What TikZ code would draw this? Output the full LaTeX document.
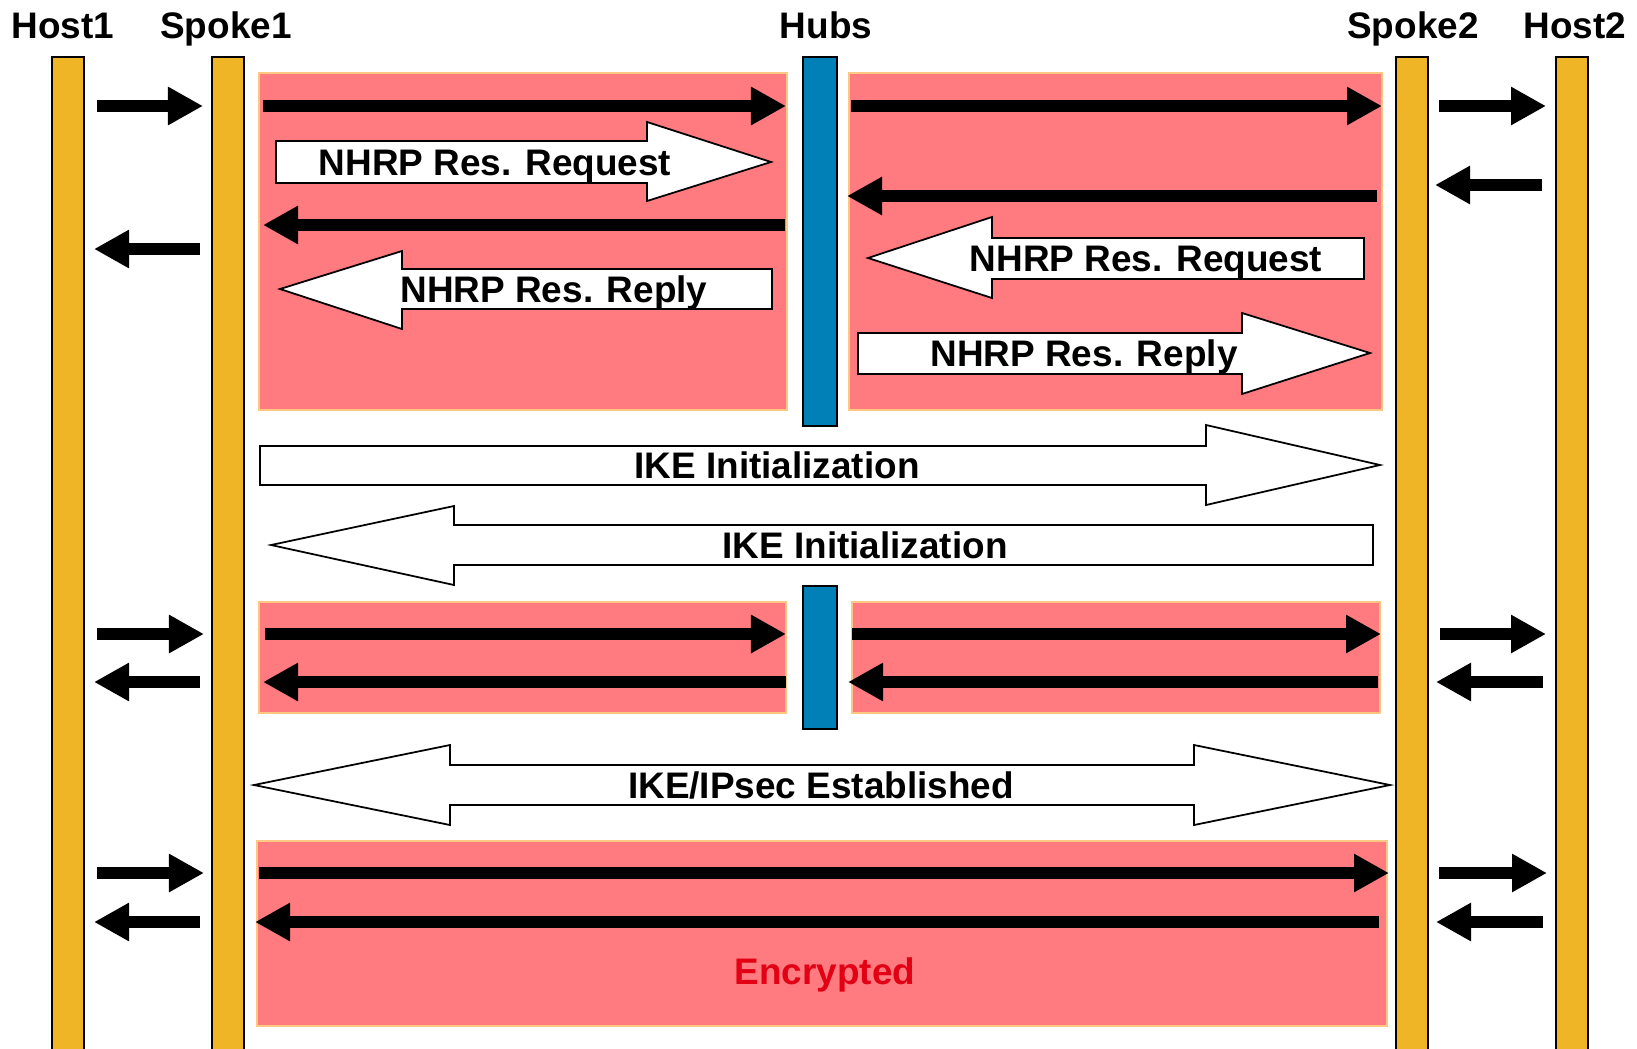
\documentclass[tikz,border=0pt]{standalone}
\usepackage{fontspec}
\setmainfont{Liberation Sans}
\usetikzlibrary{arrows.meta}
\usetikzlibrary{positioning}
\definecolor{barYellow}{RGB}{239,181,38}
\definecolor{hubBlue}{RGB}{0,128,182}
\definecolor{tunnelPink}{RGB}{255,123,128}
\definecolor{tunnelEdge}{RGB}{255,200,130}
\definecolor{cryptRed}{RGB}{225,0,20}
\tikzset{
  lifeline/.style={fill=barYellow,draw=black,line width=0.6pt},
  hubbar/.style={fill=hubBlue,draw=black,line width=0.6pt},
  tunnel/.style={fill=tunnelPink,draw=tunnelEdge,line width=0.5pt},
  msg/.style={line width=0.12cm,-{Triangle[length=0.35cm,width=0.36cm]}},
  fat/.style={fill=white,draw=black,line width=0.5pt,line join=miter},
  lbl/.style={font=\fontsize{10.5}{12}\selectfont\bfseries,anchor=base,inner sep=0pt},
}
\begin{document}
\begin{tikzpicture}[x=0.01cm,y=-0.01cm]
\useasboundingbox (0,0) rectangle (1637,1048);
\clip (0,0) rectangle (1637,1048);
\fill[white] (0,0) rectangle (1637,1048);

% lifelines
\draw[lifeline] (52,57) rectangle (84,1060);
\draw[lifeline] (212,57) rectangle (244,1060);
\draw[lifeline] (1396,57) rectangle (1428,1060);
\draw[lifeline] (1556,57) rectangle (1588,1060);
\node[lbl] (host1) at (63,38) {Host1};
\node[lbl] (spoke1) at (226,38) {Spoke1};
\node[lbl] (hubs) at (826,38) {Hubs};
\node[lbl] (spoke2) at (1413,38) {Spoke2};
\node[lbl] (host2) at (1575,38) {Host2};

% tunnels through the hubs
\draw[tunnel] (259,73) rectangle (787,410);
\draw[tunnel] (849,73) rectangle (1382,410);
\draw[tunnel] (259,602) rectangle (786,713);
\draw[tunnel] (852,602) rectangle (1380,713);
\draw[tunnel] (257,841) rectangle (1387,1026);
\draw[hubbar] (803,57) rectangle (837,426);
\draw[hubbar] (803,586) rectangle (837,729);

% first packet, resolution
\draw[msg] (97,106) -- (203,106);
\draw[msg] (263,106) -- (786,106);
\draw[msg] (851,106) -- (1382,106);
\draw[msg] (1439,106) -- (1546,106);
\draw[msg] (1542,185) -- (1435,185);
\draw[msg] (1377,196) -- (847,196);
\draw[msg] (785,225) -- (263,225);
\draw[msg] (200,249) -- (94,249);

\draw[fat] (276,141) -- (647,141) -- (647,122) -- (771,162) -- (647,201) -- (647,183) -- (276,183) -- cycle;
\node[lbl] (req1) at (495,175) {NHRP Res. Request};
\draw[fat] (772,269) -- (402,269) -- (402,251) -- (280,289) -- (402,329) -- (402,309) -- (772,309) -- cycle;
\node[lbl] (rep1) at (554,302) {NHRP Res. Reply};
\draw[fat] (1364,238) -- (992,238) -- (992,217) -- (868,258) -- (992,298) -- (992,279) -- (1364,279) -- cycle;
\node[lbl] (req2) at (1146,271) {NHRP Res. Request};
\draw[fat] (858,333) -- (1242,333) -- (1242,313) -- (1370,353) -- (1242,394) -- (1242,374) -- (858,374) -- cycle;
\node[lbl] (rep2) at (1084,366) {NHRP Res. Reply};

% IKE
\draw[fat] (260,446) -- (1206,446) -- (1206,425) -- (1380,465) -- (1206,505) -- (1206,485) -- (260,485) -- cycle;
\node[lbl] (ike1) at (777,478) {IKE Initialization};
\draw[fat] (1373,525) -- (454,525) -- (454,506) -- (271,545) -- (454,585) -- (454,565) -- (1373,565) -- cycle;
\node[lbl] (ike2) at (865,558) {IKE Initialization};

% still via hubs
\draw[msg] (97,634) -- (204,634);
\draw[msg] (265,634) -- (786,634);
\draw[msg] (852,634) -- (1381,634);
\draw[msg] (1440,634) -- (1546,634);
\draw[msg] (1543,682) -- (1436,682);
\draw[msg] (1378,682) -- (848,682);
\draw[msg] (786,682) -- (263,682);
\draw[msg] (200,682) -- (94,682);

\draw[fat] (254,785) -- (450,745) -- (450,765) -- (1194,765) -- (1194,745) -- (1390,785) -- (1194,825) -- (1194,805) -- (450,805) -- (450,825) -- cycle;
\node[lbl] (est) at (821,798) {IKE/IPsec Established};

% direct spoke to spoke
\draw[msg] (97,873) -- (204,873);
\draw[msg] (259,873) -- (1389,873);
\draw[msg] (1439,873) -- (1547,873);
\draw[msg] (1543,922) -- (1436,922);
\draw[msg] (1379,922) -- (255,922);
\draw[msg] (200,922) -- (94,922);
\node[lbl,text=cryptRed] (crypt) at (825,984) {Encrypted};
\end{tikzpicture}
\end{document}
